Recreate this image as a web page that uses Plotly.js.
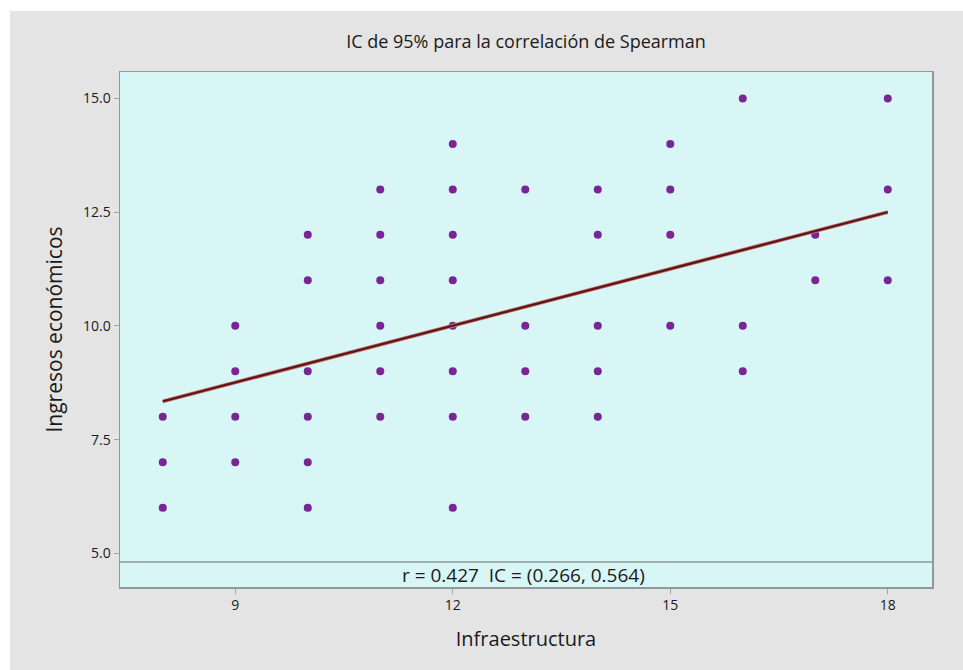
<!DOCTYPE html>
<html>
<head>
<meta charset="utf-8">
<script src="https://cdn.plot.ly/plotly-3.0.1.min.js"></script>
<style>
  html, body { margin: 0; padding: 0; background: #ffffff; width: 963px; height: 670px; overflow: hidden; }
  #chart { position: absolute; left: 10px; top: 11px; width: 953px; height: 659px; }
</style>
</head>
<body>
<div id="chart"></div>
<script>
// Data
const infraestructura = [8,8,8, 9,9,9,9, 10,10,10,10,10,10, 11,11,11,11,11,11, 12,12,12,12,12,12,12,12, 13,13,13,13, 14,14,14,14,14, 15,15,15,15, 16,16,16, 17,17, 18,18,18];
const ingresos =        [6,7,8, 7,8,9,10, 6,7,8,9,11,12, 8,9,10,11,12,13, 6,8,9,10,11,12,13,14, 8,9,10,13, 8,9,10,12,13, 10,12,13,14, 9,10,15, 11,12, 11,13,15];
const fitX = [8, 18];
const fitY = [8.34, 12.50];
const xTicks = [9, 12, 15, 18];
const yTicks = [5.0, 7.5, 10.0, 12.5, 15.0];
const titleText = "IC de 95% para la correlación de Spearman";
const xTitle = "Infraestructura";
const yTitle = "Ingresos económicos";
const statText = "r = 0.427  IC = (0.266, 0.564)";
const separatorY = 4.81;

const fontFam = "'Open Sans', 'Noto Sans', sans-serif";

const traces = [
  {
    x: infraestructura, y: ingresos, type: 'scatter', mode: 'markers',
    marker: { color: '#7a2596', size: 8 },
    hoverinfo: 'x+y'
  },
  {
    x: fitX, y: fitY, type: 'scatter', mode: 'lines',
    line: { color: '#c08a8a', width: 4 }, hoverinfo: 'skip'
  },
  {
    x: fitX, y: fitY, type: 'scatter', mode: 'lines',
    line: { color: '#6a1414', width: 2.5 }, hoverinfo: 'skip'
  }
];

const layout = {
  width: 953, height: 659,
  paper_bgcolor: '#e4e4e4',
  plot_bgcolor: '#d8f6f6',
  showlegend: false,
  margin: { l: 110, r: 31, t: 61, b: 83 },
  title: {
    text: titleText,
    font: { family: fontFam, size: 18, color: '#1a1a1a' },
    x: 0.5, xref: 'paper', xanchor: 'center',
    y: 31, yref: 'container', yanchor: 'middle'
  },
  xaxis: {
    range: [7.41, 18.61],
    tickvals: xTicks, ticktext: xTicks.map(String),
    ticks: 'outside', ticklen: 5, tickcolor: '#9aa6a6', tickwidth: 1,
    showgrid: false, zeroline: false,
    showline: true, linecolor: '#8d9a9a', linewidth: 1.5, mirror: true,
    tickfont: { family: fontFam, size: 14, color: '#1a1a1a' },
    title: { text: xTitle, font: { family: fontFam, size: 20, color: '#1a1a1a' }, standoff: 18 }
  },
  yaxis: {
    range: [4.26, 15.58],
    tickvals: yTicks, ticktext: yTicks.map(v => v.toFixed(1)),
    ticks: 'outside', ticklen: 5, tickcolor: '#9aa6a6', tickwidth: 1,
    showgrid: false, zeroline: false,
    showline: true, linecolor: '#8d9a9a', linewidth: 1.5, mirror: true,
    tickfont: { family: fontFam, size: 14, color: '#1a1a1a' },
    title: { text: yTitle, font: { family: fontFam, size: 21, color: '#1a1a1a' }, standoff: 14 }
  },
  shapes: [
    {
      type: 'line', xref: 'paper', x0: 0, x1: 1, yref: 'y', y0: separatorY, y1: separatorY,
      line: { color: '#8d9a9a', width: 1.5 }
    }
  ],
  annotations: [
    {
      text: statText, xref: 'paper', x: 0.497, xanchor: 'center',
      yref: 'y', y: 4.53, yanchor: 'middle', showarrow: false,
      font: { family: fontFam, size: 19, color: '#1a1a1a' }
    }
  ]
};

Plotly.newPlot('chart', traces, layout, { displayModeBar: false, staticPlot: true });
</script>
</body>
</html>
